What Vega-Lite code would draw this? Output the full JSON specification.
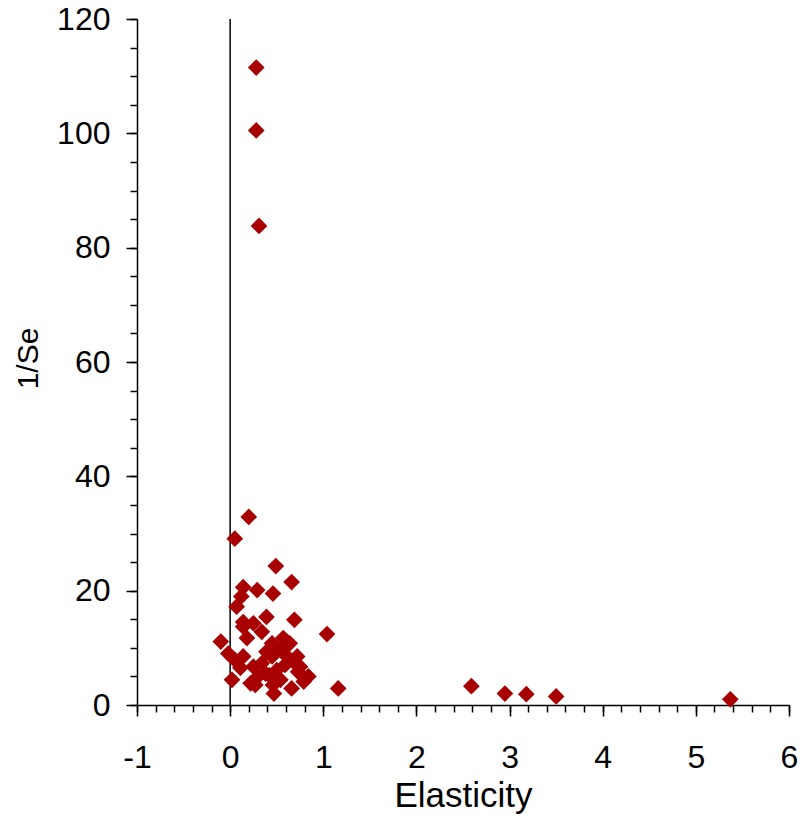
{
  "$schema": "https://vega.github.io/schema/vega-lite/v6.json",
  "width": 652,
  "height": 686,
  "autosize": {"type": "none"},
  "padding": {"left": 137, "top": 19, "right": 15, "bottom": 115},
  "background": "white",
  "config": {
    "view": {"stroke": null},
    "axis": {
      "grid": false,
      "domainColor": "black",
      "tickColor": "black",
      "labelColor": "black",
      "titleColor": "black",
      "labelFont": "Liberation Sans",
      "titleFont": "Liberation Sans",
      "labelFontSize": 32,
      "titleFontSize": 30,
      "titleFontWeight": "normal",
      "labelFlush": false,
      "labelOverlap": false,
      "domainWidth": 1.5,
      "tickWidth": 1.5
    }
  },
  "datasets": {
    "pts": [
      {"e": -0.1, "inv": 11.1}, {"e": -0.02, "inv": 9.0}, {"e": 0.02, "inv": 4.4}, {"e": 0.05, "inv": 29.1},
      {"e": 0.05, "inv": 7.9}, {"e": 0.07, "inv": 17.2}, {"e": 0.11, "inv": 6.5}, {"e": 0.12, "inv": 19.0},
      {"e": 0.14, "inv": 20.6}, {"e": 0.14, "inv": 14.5}, {"e": 0.14, "inv": 13.7}, {"e": 0.14, "inv": 8.5},
      {"e": 0.18, "inv": 11.7}, {"e": 0.2, "inv": 32.9}, {"e": 0.22, "inv": 3.8}, {"e": 0.25, "inv": 14.3},
      {"e": 0.25, "inv": 6.7}, {"e": 0.27, "inv": 3.5}, {"e": 0.28, "inv": 111.5}, {"e": 0.28, "inv": 100.5},
      {"e": 0.29, "inv": 20.1}, {"e": 0.3, "inv": 5.0}, {"e": 0.31, "inv": 83.8}, {"e": 0.34, "inv": 12.8},
      {"e": 0.34, "inv": 7.3}, {"e": 0.38, "inv": 5.5}, {"e": 0.39, "inv": 15.4}, {"e": 0.39, "inv": 9.3},
      {"e": 0.42, "inv": 5.2}, {"e": 0.45, "inv": 10.8}, {"e": 0.45, "inv": 8.5}, {"e": 0.46, "inv": 19.5},
      {"e": 0.46, "inv": 3.5}, {"e": 0.47, "inv": 2.0}, {"e": 0.49, "inv": 24.3}, {"e": 0.5, "inv": 6.1},
      {"e": 0.54, "inv": 9.6}, {"e": 0.54, "inv": 4.4}, {"e": 0.57, "inv": 11.7}, {"e": 0.59, "inv": 7.0},
      {"e": 0.61, "inv": 8.5}, {"e": 0.61, "inv": 11.0}, {"e": 0.64, "inv": 10.8}, {"e": 0.66, "inv": 21.5},
      {"e": 0.66, "inv": 2.9}, {"e": 0.68, "inv": 7.6}, {"e": 0.69, "inv": 14.9}, {"e": 0.72, "inv": 8.5},
      {"e": 0.73, "inv": 5.8}, {"e": 0.75, "inv": 6.7}, {"e": 0.79, "inv": 4.1}, {"e": 0.84, "inv": 5.0},
      {"e": 1.04, "inv": 12.4}, {"e": 1.16, "inv": 2.9}, {"e": 2.59, "inv": 3.3}, {"e": 2.95, "inv": 2.0},
      {"e": 3.18, "inv": 1.9}, {"e": 3.5, "inv": 1.5}, {"e": 5.37, "inv": 1.0}
    ]
  },
  "layer": [
    {
      "data": {"name": "pts"},
      "mark": {"type": "point", "opacity": 0},
      "encoding": {
        "x": {"field": "e", "type": "quantitative", "scale": {"domain": [-1, 6], "nice": false, "zero": false},
          "axis": {"orient": "bottom", "values": [-1, -0.8, -0.6, -0.4, -0.2, 0, 0.2, 0.4, 0.6, 0.8, 1, 1.2, 1.4, 1.6, 1.8, 2, 2.2, 2.4, 2.6, 2.8, 3, 3.2, 3.4, 3.6, 3.8, 4, 4.2, 4.4, 4.6, 4.8, 5, 5.2, 5.4, 5.6, 5.8, 6], "tickSize": 7, "labels": false, "domain": false, "title": null}},
        "y": {"field": "inv", "type": "quantitative", "scale": {"domain": [0, 120], "nice": false},
          "axis": {"orient": "left", "values": [0, 5, 10, 15, 20, 25, 30, 35, 40, 45, 50, 55, 60, 65, 70, 75, 80, 85, 90, 95, 100, 105, 110, 115, 120], "tickSize": 7, "labels": false, "domain": false, "title": null}}
      }
    },
    {
      "data": {"values": [{"x": 0}]},
      "mark": {"type": "rule", "color": "black", "strokeWidth": 1.5},
      "encoding": {"x": {"field": "x", "type": "quantitative", "axis": null}}
    },
    {
      "data": {"name": "pts"},
      "mark": {"type": "point", "shape": "diamond", "filled": true, "size": 280, "color": "#a80000", "opacity": 1},
      "encoding": {
        "x": {"field": "e", "type": "quantitative",
          "axis": {"orient": "bottom", "values": [-1, 0, 1, 2, 3, 4, 5, 6], "labelExpr": "datum.value < 0 ? '-' + abs(datum.value) : datum.label", "tickSize": 11, "labelPadding": 26, "title": "Elasticity", "titleFontSize": 35, "titlePadding": 5}},
        "y": {"field": "inv", "type": "quantitative",
          "axis": {"orient": "left", "values": [0, 20, 40, 60, 80, 100, 120], "tickSize": 11, "labelPadding": 16, "title": "1/Se", "titlePadding": 13, "titleY": 339}}
      }
    }
  ],
  "resolve": {"axis": {"x": "independent", "y": "independent"}}
}
